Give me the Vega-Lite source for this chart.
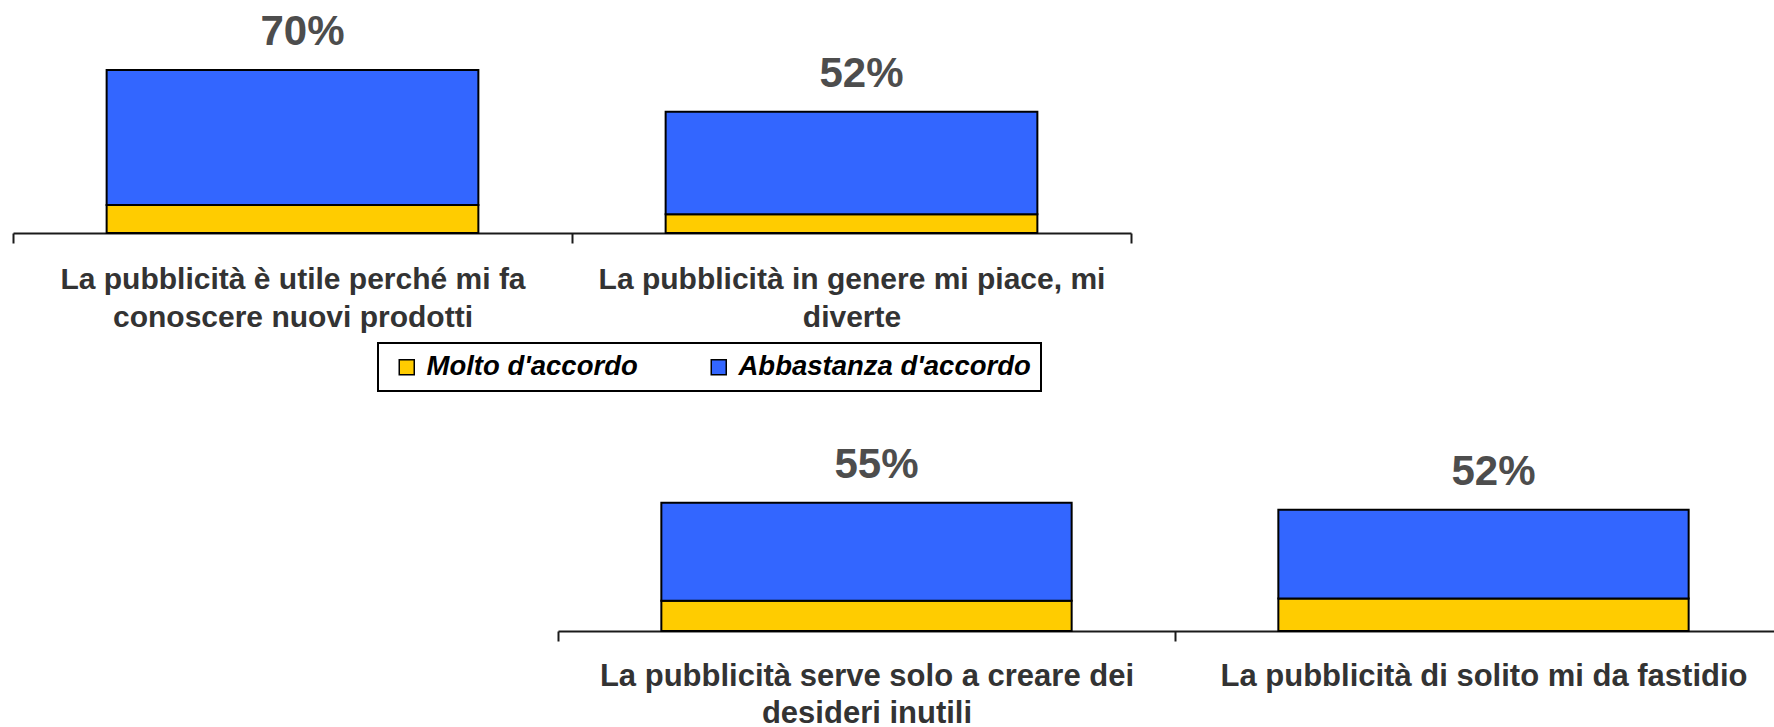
{
  "$schema": "https://vega.github.io/schema/vega-lite/v6.json",
  "padding": {"left": 12, "top": 0, "right": 0, "bottom": 0},
  "background": "white",
  "config": {
    "view": {"stroke": null},
    "font": "Liberation Sans",
    "axisX": {
      "title": null,
      "labelAngle": 0,
      "labelExpr": "split(datum.label, '\\n')",
      "labelFont": "Liberation Sans",
      "labelFontSize": 30,
      "labelFontWeight": "bold",
      "labelColor": "#333333",
      "labelLimit": 0,
      "labelPadding": 21,
      "labelLineHeight": 38,
      "tickBand": "extent",
      "tickSize": 10,
      "tickWidth": 2,
      "tickColor": "#1a1a1a",
      "domainColor": "#1a1a1a",
      "domainWidth": 2
    },
    "legend": {
      "orient": "none",
      "legendX": 365,
      "legendY": 343,
      "direction": "horizontal",
      "padding": 10,
      "symbolType": "square",
      "symbolSize": 225,
      "symbolStrokeColor": "black",
      "symbolStrokeWidth": 1.5,
      "symbolOffset": 5,
      "labelOffset": 6,
      "columnPadding": 62,
      "labelFont": "Liberation Sans",
      "labelFontSize": 27.5,
      "labelFontStyle": "italic",
      "labelFontWeight": "bold",
      "labelColor": "black",
      "labelLimit": 0,
      "strokeColor": "black",
      "strokeWidth": 2
    }
  },
  "data": {
    "values": [
      {"item": "La pubblicità è utile perché mi fa\nconoscere nuovi prodotti", "panel": "top", "type": "Molto d'accordo", "value": 0.12},
      {"item": "La pubblicità è utile perché mi fa\nconoscere nuovi prodotti", "panel": "top", "type": "Abbastanza d'accordo", "value": 0.58},
      {"item": "La pubblicità in genere mi piace, mi\ndiverte", "panel": "top", "type": "Molto d'accordo", "value": 0.08},
      {"item": "La pubblicità in genere mi piace, mi\ndiverte", "panel": "top", "type": "Abbastanza d'accordo", "value": 0.44},
      {"item": "La pubblicità serve solo a creare dei\ndesideri inutili", "panel": "bottom", "type": "Molto d'accordo", "value": 0.13},
      {"item": "La pubblicità serve solo a creare dei\ndesideri inutili", "panel": "bottom", "type": "Abbastanza d'accordo", "value": 0.42},
      {"item": "La pubblicità di solito mi da fastidio", "panel": "bottom", "type": "Molto d'accordo", "value": 0.14},
      {"item": "La pubblicità di solito mi da fastidio", "panel": "bottom", "type": "Abbastanza d'accordo", "value": 0.38}
    ]
  },
  "spacing": 66,
  "resolve": {"scale": {"color": "shared"}},
  "vconcat": [
    {
      "width": 1118,
      "height": 233,
      "transform": [{"filter": "datum.panel === 'top'"}],
      "encoding": {
        "x": {"field": "item", "type": "nominal", "sort": null, "scale": {"paddingInner": 0, "paddingOuter": 0}}
      },
      "layer": [
        {
          "mark": {"type": "bar", "width": {"band": 0.665}, "stroke": "black", "strokeWidth": 2},
          "encoding": {
            "y": {"field": "value", "type": "quantitative", "stack": "zero", "scale": {"domain": [0, 0.975]}, "axis": null},
            "color": {"field": "type", "type": "nominal", "title": null, "scale": {"domain": ["Molto d'accordo", "Abbastanza d'accordo"], "range": ["#FFCC00", "#3366FF"]}},
            "order": {"field": "type", "sort": "descending"}
          }
        },
        {
          "transform": [{"aggregate": [{"op": "sum", "field": "value", "as": "total"}], "groupby": ["item"]}],
          "mark": {"type": "text", "baseline": "bottom", "dy": -16, "dx": 10, "fontSize": 42, "fontWeight": "bold", "color": "#4d4d4d", "font": "Liberation Sans"},
          "encoding": {
            "y": {"field": "total", "type": "quantitative"},
            "text": {"field": "total", "type": "quantitative", "format": ".0%"}
          }
        }
      ]
    },
    {
      "spacing": 0,
      "hconcat": [
        {
          "width": 544,
          "height": 10,
          "data": {"values": []},
          "mark": "point",
          "encoding": {}
        },
        {
          "width": 1234,
          "height": 233,
          "transform": [{"filter": "datum.panel === 'bottom'"}],
          "encoding": {
            "x": {"field": "item", "type": "nominal", "sort": null, "scale": {"paddingInner": 0, "paddingOuter": 0}, "axis": {"labelFontSize": 31, "labelLineHeight": 37, "labelPadding": 20}}
          },
          "layer": [
            {
              "mark": {"type": "bar", "width": {"band": 0.665}, "stroke": "black", "strokeWidth": 2},
              "encoding": {
                "y": {"field": "value", "type": "quantitative", "stack": "zero", "scale": {"domain": [0, 0.975]}, "axis": null},
                "color": {"field": "type", "type": "nominal", "title": null, "scale": {"domain": ["Molto d'accordo", "Abbastanza d'accordo"], "range": ["#FFCC00", "#3366FF"]}},
                "order": {"field": "type", "sort": "descending"}
              }
            },
            {
              "transform": [{"aggregate": [{"op": "sum", "field": "value", "as": "total"}], "groupby": ["item"]}],
              "mark": {"type": "text", "baseline": "bottom", "dy": -16, "dx": 10, "fontSize": 42, "fontWeight": "bold", "color": "#4d4d4d", "font": "Liberation Sans"},
              "encoding": {
                "y": {"field": "total", "type": "quantitative"},
                "text": {"field": "total", "type": "quantitative", "format": ".0%"}
              }
            }
          ]
        }
      ]
    }
  ]
}
